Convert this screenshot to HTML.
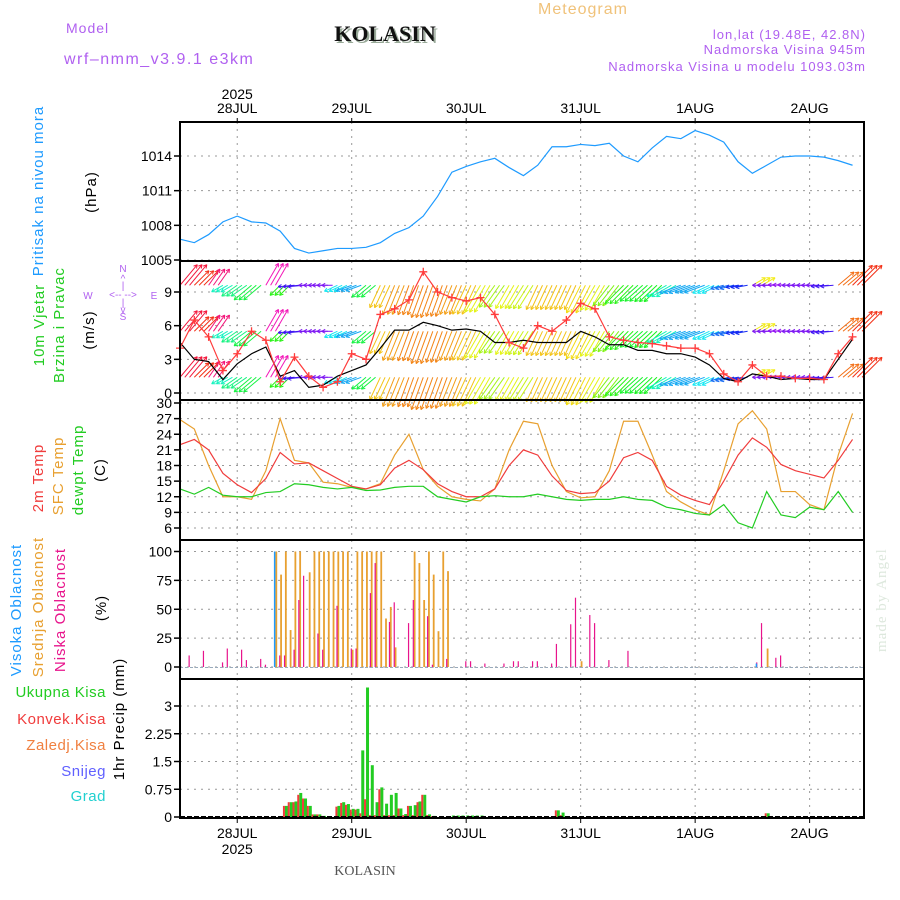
<!DOCTYPE html>
<html><head><meta charset="utf-8">
<style>
html,body{margin:0;padding:0;background:#fff;}
svg{display:block;font-family:"Liberation Sans",sans-serif;}
</style></head>
<body>
<svg id="chart" width="900" height="900" viewBox="0 0 900 900">
<text x="583" y="14" font-size="16" fill="#f0c27a" text-anchor="middle" letter-spacing="1">Meteogram</text>
<text x="66" y="33" font-size="14" fill="#b060f0" letter-spacing="1">Model</text>
<text x="64" y="64" font-size="16" fill="#b060f0" letter-spacing="1.5">wrf–nmm_v3.9.1 e3km</text>
<text x="387" y="43" font-size="22" font-weight="bold" font-family="Liberation Serif,serif" fill="#9a9" text-anchor="middle">KOLASIN</text>
<text x="385" y="41" font-size="22" font-weight="bold" font-family="Liberation Serif,serif" fill="#111" text-anchor="middle">KOLASIN</text>
<g font-size="13" fill="#b060f0" text-anchor="end" letter-spacing="1">
<text x="866" y="39">lon,lat (19.48E, 42.8N)</text>
<text x="866" y="54">Nadmorska Visina 945m</text>
<text x="866" y="71">Nadmorska Visina u modelu 1093.03m</text>
</g>
<text x="365" y="875" font-size="14" font-family="Liberation Serif,serif" fill="#555" text-anchor="middle">KOLASIN</text>
<text transform="translate(886,652) rotate(-90)" font-size="15" font-family="Liberation Serif,serif" fill="#dde8dd" letter-spacing="1">made by Angel</text>
<g id="g"></g>
</svg>
<script>
// ---- data (time in hours from 27JUL 12Z, 3-hourly samples) ----
const days = ["28JUL","29JUL","30JUL","31JUL","1AUG","2AUG"];
const dayHours = [12,36,60,84,108,132];
const pressTicks = [1005,1008,1011,1014];
const windTicks = [0,3,6,9];
const tempTicks = [6,9,12,15,18,21,24,27,30];
const cloudTicks = [0,25,50,75,100];
const precipTicks = [0,0.75,1.5,2.25,3];
const pressure = [1006.8,1006.5,1007.2,1008.3,1008.8,1008.3,1008.2,1007.5,1006.0,1005.6,1005.8,1006.0,1006.0,1006.1,1006.5,1007.3,1007.8,1008.8,1010.5,1012.6,1013.1,1013.5,1013.8,1013.0,1012.3,1013.2,1014.8,1014.8,1015.0,1014.9,1015.1,1014.0,1013.5,1014.7,1015.7,1015.5,1016.2,1015.8,1015.2,1013.5,1012.5,1013.2,1013.9,1014.0,1014.0,1013.9,1013.6,1013.2];
const temp2m = [22,23,21,16.5,14.3,12.8,15.5,20.5,18.3,18.5,17,15.5,14,13.5,14.3,17.5,19,17.2,14.5,13,12,12,13.5,18,21,20,16,13.2,12.6,12.8,15,19.5,20.5,19,14,12.3,11.3,10.5,15,20,23.3,21.5,18.2,17,16.3,15.6,19,23];
const tempSfc = [26.8,25,18,12,12,11.5,17,27,19,18.5,14.8,14.5,13.8,13.5,14.5,20,24,17.2,14,12,11.5,11.2,13.5,21,26.5,26,18,13,11.8,12,17,26.5,26.5,20,13,11,9.5,8.5,17,26,28.5,25,13,13,10.5,9.5,20,28];
const dewpt = [13.5,12.5,13.8,12.3,12,12,12.8,13,14.5,14.3,13.8,13.5,13.8,13.2,13.3,13.8,14,14,12,11.5,11,12,12.2,12,12,12.5,12,11.5,11.3,11.5,11.5,12,11.5,11.3,10,9.5,8.8,8.5,10.5,7,6,13,8.5,8,10,9.5,13,9];
const windGust = [4,6.5,5,2,3.5,5.5,4.7,1,3.2,1.5,0.5,1,3.5,3,7,7.5,8.3,10.8,9,8.5,8.2,8.5,7,4.5,4,6,5.5,6.5,8,7.5,5,4.7,4.5,4.4,4.2,4,4,3.5,1.7,1,2.5,1.5,1.5,1.3,1.3,1.2,3.5,5];
const windSpeed = [4.5,3,2.8,1.2,2.6,3.5,4.1,1.5,2,0.5,0.7,1.5,2,2.5,4,5.6,5.6,6.3,6,5.6,5.7,5.5,4.5,4.5,4.7,4.5,4.5,4.5,5.5,5,4.3,4.3,3.8,3.8,3.5,3.5,3.2,2.5,1.3,1,1.7,1.5,1.2,1.3,1.2,1.2,3,4.8];
const windDir = [50,45,55,210,215,220,60,225,185,180,180,205,200,220,245,248,250,250,250,248,245,240,235,240,238,245,245,245,243,240,232,225,222,223,210,200,200,205,195,190,30,180,178,180,180,185,40,45];
const windRows = [9.6,5.5,1.4];
const highHours = [20,121];
const highVals = [100,3];
const midHours = [20,21,22,23,24,25,27,28,29,30,31,32,33,34,35,36,37,38,39,40,41,42,43,44,45,49,50,51,52,53,54,55,56,84,123];
const midVals = [100,80,100,32,100,100,82,100,100,100,100,100,100,100,100,15,100,100,100,100,100,100,42,52,17,100,90,58,100,80,31,100,83,5,16];
const lowHours = [2,5,9,10,13,14,17,18,21,22,24,25,26,29,30,33,36,37,40,41,44,45,48,49,52,53,56,60,61,64,68,70,71,74,75,78,79,82,83,86,87,90,94,121,122,125,126];
const lowVals = [10,14,4,16,15,6,7,2,10,10,15,58,79,29,15,53,16,16,64,90,39,56,38,58,44,2,7,5,5,3,3,5,5,5,5,3,20,37,60,45,38,6,14,4,38,8,10];
const precipHours = [22,23,24,25,26,27,28,29,30,33,34,35,36,37,38,39,40,41,42,43,44,45,46,47,48,49,50,51,52,53,57,58,59,60,61,62,63,79,80,123];
const totalPrecip = [0.3,0.4,0.42,0.65,0.5,0.3,0.07,0.07,0.03,0.3,0.4,0.35,0.22,0.22,1.8,3.5,1.4,0.4,0.8,0.36,0.6,0.65,0.23,0.08,0.3,0.32,0.42,0.6,0.07,0.03,0.04,0.04,0.04,0.04,0.04,0.04,0.04,0.18,0.12,0.1];
const convPrecip = [0.3,0.4,0.4,0.6,0.5,0.3,0.07,0.07,0.03,0.28,0.38,0.33,0.2,0.2,0.1,0.48,0.05,0.05,0.75,0.05,0.05,0.05,0.23,0.05,0.3,0.05,0.4,0.6,0.05,0.02,0,0,0,0,0,0,0,0.18,0.05,0.1];

// ---- axes ----
const X0=180,X1=864,T1=143.4;
const sx=t=>X0+t*(X1-X0)/T1;
const lin=(v0,y0,v1,y1)=>v=>y0+(v-v0)*(y1-y0)/(v1-v0);
const yP=lin(1005,260,1014,156), yW=lin(0,393,9,292), yT=lin(6,528,30,403), yC=lin(0,667,100,551.5), yR=lin(0,817,3,706);
const panels=[[122,261,'pressure-panel'],[261,400,'wind-panel'],[400,540,'temperature-panel'],[540,679,'cloud-panel'],[679,818,'precip-panel']];
const NS='http://www.w3.org/2000/svg', G=document.getElementById('g');
function mk(tag,a,par){const e=document.createElementNS(NS,tag);for(const k in a)e.setAttribute(k,a[k]);(par||G).appendChild(e);return e;}
function txt(s,x,y,a,par){const e=mk('text',Object.assign({x:x,y:y},a),par);e.textContent=s;return e;}
const step=3;
function line(vals,ys,color,name){
  const p=mk('polyline',{points:vals.map((v,i)=>sx(i*step)+','+ys(v)).join(' '),fill:'none',stroke:color,'stroke-width':1.2});
  
  
  return p;
}
// grids
panels.forEach(([a,b])=>{
  dayHours.forEach(h=>{const l=mk('line',{x1:sx(h),x2:sx(h),y1:a,y2:b,stroke:'#999','stroke-dasharray':'2,5'});
    
    });
});
function hgrid(ticks,ys,fmt,name){
  ticks.forEach(v=>{const y=ys(v);
    const l=mk('line',{x1:X0,x2:X1,y1:y,y2:y,stroke:'#999','stroke-dasharray':'2,5'});
    
    
    mk('line',{x1:X0-6,x2:X0,y1:y,y2:y,stroke:'#000','stroke-width':1.5});
    const t=txt(fmt(v),X0-8,y+5,{'font-size':14,'text-anchor':'end',fill:'#000'});
    
    
  });
}
hgrid(pressTicks,yP,v=>v,'pressure');
hgrid(windTicks,yW,v=>v,'wind');
hgrid(tempTicks,yT,v=>v,'temperature');
hgrid(cloudTicks,yC,v=>v,'cloud');
hgrid(precipTicks,yR,v=>v,'precip');
// date labels
days.forEach((d,i)=>{const x=sx(dayHours[i]);
  const a=txt(d,x,113,{'font-size':14,'text-anchor':'middle'});
  
  
  const b=txt(d,x,838,{'font-size':14,'text-anchor':'middle'});
  
  
  mk('line',{x1:x,x2:x,y1:118,y2:122,stroke:'#000'});
  mk('line',{x1:x,x2:x,y1:818,y2:823,stroke:'#000'});
});
let y1=txt('2025',sx(12),99,{'font-size':14,'text-anchor':'middle'});


let y2=txt('2025',sx(12),854,{'font-size':14,'text-anchor':'middle'});



// pressure
line(pressure,yP,'#1e9bff','pressure-line');
// wind arrows
const dc=a=>'hsl('+(((30+(250-a)*3.4)%360+360)%360)+',90%,52%)';
const wg=mk('g',{'stroke-width':1});


windDir.forEach((d,i)=>{
  for(let s=0;s<3;s++){
    const t=i*step+s; if(t>T1)continue;
    const x=sx(t), L=8+windSpeed[i]*4.2, r=d*Math.PI/180;
    windRows.forEach(row=>{
      const y=yW(row), x2=x+L*Math.cos(r), y2=y-L*Math.sin(r), c=dc(d);
      const ln=mk('line',{x1:x,y1:y,x2:x2,y2:y2,stroke:c},wg);
      
      
      const hr=r+Math.PI;
      mk('line',{x1:x2,y1:y2,x2:x2+4*Math.cos(hr+0.5),y2:y2-4*Math.sin(hr+0.5),stroke:c},wg);
      mk('line',{x1:x2,y1:y2,x2:x2+4*Math.cos(hr-0.5),y2:y2-4*Math.sin(hr-0.5),stroke:c},wg);
    });
  }
});
line(windSpeed,yW,'#000','wind-speed-line');
line(windGust,yW,'#ff3b3b','wind-gust-line');
windGust.forEach((v,i)=>{const x=sx(i*step),y=yW(v);
  const p=mk('path',{d:`M${x-4},${y}H${x+4}M${x},${y-4}V${y+4}`,stroke:'#ff3b3b','stroke-width':1.3});
  
  });
// temps
line(tempSfc,yT,'#e8a030','sfc-temp-line');
line(temp2m,yT,'#f03c3c','2m-temp-line');
line(dewpt,yT,'#22cc22','dewpoint-line');
// clouds
function bars(hours,vals,ys,color,off,w,name){
  hours.forEach((h,i)=>{const x=sx(h)+off,y=ys(vals[i]),y0=ys(0);
    const r=mk('rect',{x:x,y:y,width:w,height:Math.max(0,y0-y),fill:color});
    
    });
}
bars(midHours,midVals,yC,'#e8a030',0,1.8,'mid-cloud-bar');
bars(lowHours,lowVals,yC,'#e8148c',-1,1.2,'low-cloud-bar');
bars(highHours,highVals,yC,'#1e9bff',-1.5,1.5,'high-cloud-bar');
mk('line',{x1:X0,x2:X1,y1:yC(0)+0.5,y2:yC(0)+0.5,stroke:'#9ab','stroke-dasharray':'3,2'});
// precip
bars(precipHours,totalPrecip,yR,'#22cc22',0,3,'total-precip-bar');
bars(precipHours,convPrecip,yR,'#f03c3c',-2,2,'convective-precip-bar');
mk('line',{x1:X0,x2:X1,y1:817,y2:817,stroke:'#000','stroke-width':2,'stroke-dasharray':'5,2'});
// frames
panels.forEach(([a,b,n])=>{const r=mk('rect',{x:X0,y:a,width:X1-X0,height:b-a,fill:'none',stroke:'#000','stroke-width':2});
  
  });

// axis titles
function vt(s,x,y,c,n,fs){const e=txt(s,0,0,{transform:`translate(${x},${y}) rotate(-90)`,'font-size':fs||15,fill:c,'text-anchor':'middle','letter-spacing':1});
  
  }
vt('Pritisak na nivou mora',43,191,'#1e9bff','pressure-title');
vt('(hPa)',96,192,'#000','pressure-unit');
vt('10m Vjetar',44,325,'#22cc22','wind-title-1');
vt('Brzina i Pravac',64,325,'#22cc22','wind-title-2');
vt('(m/s)',94,330,'#000','wind-unit');
vt('2m Temp',43,478,'#f03c3c','temp-title-2m');
vt('SFC Temp',63,476,'#e8a030','temp-title-sfc');
vt('dewpt Temp',83,470,'#22cc22','temp-title-dewpt');
vt('(C)',105,470,'#000','temp-unit');
vt('Visoka Oblacnost',21,610,'#1e9bff','high-cloud-title');
vt('Srednja Oblacnost',43,607,'#e8a030','mid-cloud-title');
vt('Niska Oblacnost',65,610,'#e8148c','low-cloud-title');
vt('(%)',106,608,'#000','cloud-unit');
vt('1hr Precip (mm)',124,719,'#000','precip-title');
[['Ukupna Kisa','#22cc22',697],['Konvek.Kisa','#f03c3c',724],['Zaledj.Kisa','#f08040',750],['Snijeg','#6060ff',776],['Grad','#20d0d0',801]].forEach(([s,c,y])=>{
  const e=txt(s,106,y,{'font-size':15,fill:c,'text-anchor':'end','letter-spacing':0.5});
  
  });
// compass
const cg=mk('g',{fill:'#b060f0','font-size':10,'text-anchor':'middle'});


[['N',123,272],['^',123,282],['|',123,289],['W',88,299],['<-- -->',123,298],['E',154,299],['|',123,306],['v',123,313],['S',123,320]].forEach(([s,x,y])=>txt(s,x,y,{},cg));
</script>
</body></html>
